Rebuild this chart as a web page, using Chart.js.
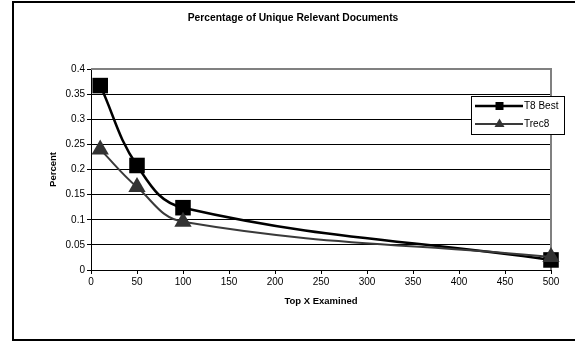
<!DOCTYPE html>
<html>
<head>
<meta charset="utf-8">
<script src="https://cdn.jsdelivr.net/npm/chart.js@4.4.0/dist/chart.umd.min.js"></script>
<style>
  html, body { margin: 0; padding: 0; background: #fff; }
  canvas { display: block; }
</style>
</head>
<body>
<canvas id="chart" width="575" height="341"></canvas>
<script>
// Data
const topX = [10, 50, 100, 500];
const t8Best = [0.367, 0.208, 0.124, 0.020];
const trec8 = [0.240, 0.165, 0.096, 0.026];
const seriesNames = ['T8 Best', 'Trec8'];
const yTickLabels = ['0', '0.05', '0.1', '0.15', '0.2', '0.25', '0.3', '0.35', '0.4'];
const xTickLabels = ['0', '50', '100', '150', '200', '250', '300', '350', '400', '450', '500'];
const titleText = 'Percentage of Unique Relevant Documents';
const xTitleText = 'Top X Examined';
const yTitleText = 'Percent';

const FONT = '"Liberation Sans", Arial, sans-serif';

function toPoints(xs, ys) {
  return xs.map((x, i) => ({ x: x, y: ys[i] }));
}

// Frame, outer border, titles and legend
const decor = {
  id: 'decor',
  beforeDatasetsDraw(chart) {
    const { ctx, chartArea: a } = chart;
    ctx.save();
    ctx.strokeStyle = '#808080';
    ctx.lineWidth = 2;
    ctx.beginPath();
    ctx.moveTo(a.left, a.top);
    ctx.lineTo(a.right, a.top);
    ctx.lineTo(a.right, a.bottom);
    ctx.stroke();
    ctx.restore();
  },
  afterDraw(chart) {
    const { ctx, chartArea: a } = chart;
    ctx.save();
    // outer border
    ctx.strokeStyle = '#000';
    ctx.lineWidth = 2;
    ctx.strokeRect(13, 2, 580, 338);

    // titles
    ctx.fillStyle = '#000';
    ctx.textAlign = 'center';
    ctx.textBaseline = 'middle';
    ctx.font = 'bold 10.3px ' + FONT;
    ctx.fillText(titleText, 293, 18);
    ctx.font = 'bold 9.5px ' + FONT;
    ctx.fillText(xTitleText, (a.left + a.right) / 2, 301);
    ctx.save();
    ctx.translate(53, (a.top + a.bottom) / 2);
    ctx.rotate(-Math.PI / 2);
    ctx.fillText(yTitleText, 0, 0);
    ctx.restore();

    // legend
    const bx = 471.5, by = 96.5, bw = 93, bh = 38;
    ctx.fillStyle = '#fff';
    ctx.fillRect(bx, by, bw, bh);
    ctx.strokeStyle = '#000';
    ctx.lineWidth = 1;
    ctx.strokeRect(bx, by, bw, bh);
    const rows = [106, 124];
    chart.data.datasets.forEach((ds, i) => {
      const y = rows[i];
      ctx.strokeStyle = ds.borderColor;
      ctx.lineWidth = ds.borderWidth;
      ctx.beginPath();
      ctx.moveTo(475, y);
      ctx.lineTo(523, y);
      ctx.stroke();
      ctx.fillStyle = ds.pointBackgroundColor;
      ctx.beginPath();
      if (ds.pointStyle === 'rect') {
        ctx.rect(495.5, y - 4, 8, 8);
      } else {
        ctx.moveTo(499.5, y - 5.5);
        ctx.lineTo(504.5, y + 3);
        ctx.lineTo(494.5, y + 3);
        ctx.closePath();
      }
      ctx.fill();
      ctx.fillStyle = '#000';
      ctx.font = '10px ' + FONT;
      ctx.textAlign = 'left';
      ctx.textBaseline = 'middle';
      ctx.fillText(ds.label, 524, y);
    });
    ctx.restore();
  }
};

new Chart(document.getElementById('chart'), {
  type: 'line',
  data: {
    datasets: [
      {
        label: seriesNames[0],
        data: toPoints(topX, t8Best),
        borderColor: '#000',
        backgroundColor: '#000',
        pointBackgroundColor: '#000',
        pointBorderColor: '#000',
        borderWidth: 2.5,
        pointStyle: 'rect',
        pointRadius: 11,
        pointBorderWidth: 0,
        tension: 0.4,
        clip: false,
        order: 1
      },
      {
        label: seriesNames[1],
        data: toPoints(topX, trec8),
        borderColor: '#3a3a3a',
        backgroundColor: '#3a3a3a',
        pointBackgroundColor: '#333',
        pointBorderColor: '#333',
        borderWidth: 2,
        pointStyle: 'triangle',
        pointRadius: 10,
        pointBorderWidth: 0,
        tension: 0.4,
        clip: false,
        order: 0
      }
    ]
  },
  options: {
    responsive: false,
    animation: false,
    devicePixelRatio: 1,
    layout: { padding: { top: 69, left: 0, right: 24, bottom: 0 } },
    plugins: {
      legend: { display: false },
      title: { display: false },
      tooltip: { enabled: false }
    },
    scales: {
      x: {
        type: 'linear',
        min: 0,
        max: 500,
        afterFit(scale) { scale.height = 71; },
        afterBuildTicks(scale) {
          scale.ticks = xTickLabels.map(v => ({ value: Number(v) }));
        },
        ticks: {
          color: '#000',
          font: { family: FONT, size: 10 },
          padding: 2,
          maxRotation: 0,
          autoSkip: false,
          callback(value) { return xTickLabels.find(l => Number(l) === value) ?? ''; }
        },
        grid: {
          drawOnChartArea: false,
          drawTicks: true,
          tickLength: 4,
          tickColor: '#000',
          lineWidth: 1
        },
        border: { color: '#000', width: 1 }
      },
      y: {
        type: 'linear',
        min: 0,
        max: 0.4,
        afterFit(scale) { scale.width = 91; },
        afterBuildTicks(scale) {
          scale.ticks = yTickLabels.map(v => ({ value: Number(v) }));
        },
        ticks: {
          color: '#000',
          font: { family: FONT, size: 10 },
          padding: 2,
          autoSkip: false,
          callback(value) { return yTickLabels.find(l => Math.abs(Number(l) - value) < 1e-9) ?? ''; }
        },
        grid: {
          color: '#000',
          lineWidth: 1,
          drawTicks: true,
          tickLength: 4,
          tickColor: '#000'
        },
        border: { color: '#000', width: 1 }
      }
    }
  },
  plugins: [decor]
});
</script>
</body>
</html>
